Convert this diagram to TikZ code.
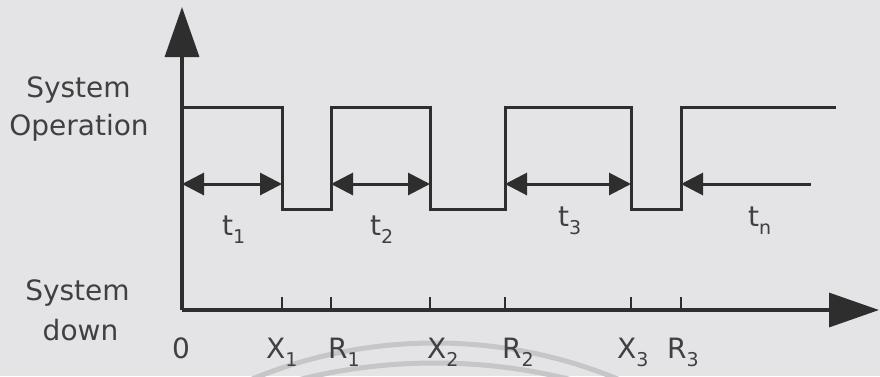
\documentclass[tikz,border=0pt]{standalone}
\usepackage{fontspec}
\setmainfont{DejaVu Sans}
\usetikzlibrary{arrows.meta}
\definecolor{paper}{HTML}{E4E4E6}
\definecolor{ink}{HTML}{2E2E2E}
\definecolor{txt}{HTML}{404040}
\definecolor{ghost}{HTML}{C6C6C8}
\newcommand\lowidx[1]{\raisebox{-8pt}{\fontsize{19}{19}\selectfont #1}}
\tikzset{
  axis/.style={draw=ink, line width=3.4pt, -{Triangle[length=50pt,width=34pt]}},
  wave/.style={draw=ink, line width=3pt, line join=miter},
  span/.style={draw=ink, line width=3pt, {Triangle[length=22pt,width=22pt]}-{Triangle[length=22pt,width=22pt]}},
  spanin/.style={draw=ink, line width=3pt, -{Triangle[length=22pt,width=22pt]}},
  tick/.style={draw=ink, line width=2.6pt},
  lbl/.style={inner sep=0pt, text=txt, font=\fontsize{28}{34}\selectfont},
}
\begin{document}
\begin{tikzpicture}[x=1pt,y=-1pt]
  \fill[paper] (0,0) rectangle (880,376);
  \useasboundingbox (0,0) rectangle (880,376);

  % faint arcs along the bottom edge
  \begin{scope}
    \clip (0,0) rectangle (880,376);
    \draw[ghost, line width=5pt] (435,823) circle (480);
    \draw[ghost, line width=5pt] (435,923) circle (560);
  \end{scope}

  % reference points
  \coordinate (O) at (182,310);
  \coordinate (ytop) at (182,7);
  \coordinate (xend) at (879,310);
  \foreach \n/\x in {X1/282,R1/331,X2/430,R2/505,X3/631,R3/681}{
    \coordinate (\n) at (\x,310);
    \coordinate (\n t) at (\x,297);
    \coordinate (\n h) at (\x,107);
    \coordinate (\n l) at (\x,209);
    \coordinate (\n a) at (\x,184);
  }
  \coordinate (Oh) at (182,107);
  \coordinate (Oa) at (182,184);
  \coordinate (endh) at (836,107);
  \coordinate (tnstart) at (811,184);

  % axes
  \draw[axis] (O) -- (ytop);
  \draw[axis] (O) -- (xend);

  % ticks
  \foreach \n in {X1,R1,X2,R2,X3,R3}{
    \draw[tick] (\n) -- (\n t);
  }

  % operating / down waveform
  \draw[wave] (Oh) -- (X1h) -- (X1l) -- (R1l) -- (R1h) -- (X2h) -- (X2l)
    -- (R2l) -- (R2h) -- (X3h) -- (X3l) -- (R3l) -- (R3h) -- (endh);

  % up-time spans
  \draw[span] (Oa) -- (X1a);
  \draw[span] (R1a) -- (X2a);
  \draw[span] (R2a) -- (X3a);
  \draw[spanin] (tnstart) -- (R3a);

  % span labels
  \node[lbl, anchor=base west] (t1) at (222,235) {t\lowidx{1}};
  \node[lbl, anchor=base west] (t2) at (370,235) {t\lowidx{2}};
  \node[lbl, anchor=base west] (t3) at (558,226) {t\lowidx{3}};
  \node[lbl, anchor=base west] (tn) at (748,226) {t\lowidx{n}};

  % axis labels
  \node[lbl, anchor=base] (sys1) at (78.5,97) {System};
  \node[lbl, anchor=base] (oper) at (79,135) {Operation};
  \node[lbl, anchor=base] (sys2) at (77.5,300) {System};
  \node[lbl, anchor=base] (down) at (80.5,340) {down};

  % time marks
  \node[lbl, anchor=base west] (l0) at (172,358) {0};
  \node[lbl, anchor=base west] (lX1) at (266,358) {X\lowidx{1}};
  \node[lbl, anchor=base west] (lR1) at (328,358) {R\lowidx{1}};
  \node[lbl, anchor=base west] (lX2) at (427,358) {X\lowidx{2}};
  \node[lbl, anchor=base west] (lR2) at (502,358) {R\lowidx{2}};
  \node[lbl, anchor=base west] (lX3) at (617,358) {X\lowidx{3}};
  \node[lbl, anchor=base west] (lR3) at (667,358) {R\lowidx{3}};
\end{tikzpicture}
\end{document}
